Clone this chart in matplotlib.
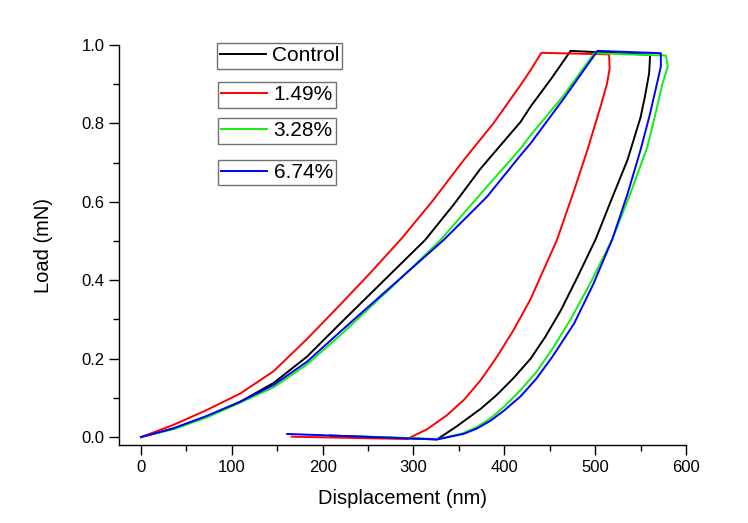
import matplotlib
matplotlib.use("Agg")
import matplotlib.pyplot as plt
from matplotlib.ticker import MultipleLocator, FormatStrFormatter
from matplotlib.lines import Line2D

plt.rcParams['font.family'] = ['Liberation Sans', 'DejaVu Sans']

# ---- data (displacement nm, load mN): loading, hold, unloading, drift ----
ctrl_x = [0, 35.6, 72.4, 109.2, 146, 182.7, 219.5, 266, 313, 345, 374, 418, 429, 452, 473,
          560.6,
          559.5, 555, 550, 535.7, 517, 500.7, 481, 462, 445, 429, 410, 392, 374, 348, 326,
          208]
ctrl_y = [0, 0.022, 0.052, 0.090, 0.138, 0.205, 0.290, 0.396, 0.503, 0.595, 0.685, 0.804, 0.843, 0.915, 0.985,
          0.975,
          0.928, 0.870, 0.815, 0.707, 0.600, 0.505, 0.410, 0.322, 0.255, 0.200, 0.150, 0.108, 0.072, 0.028, -0.006,
          0.004]

r149_x = [0, 35.6, 72.4, 109.2, 146, 182.7, 219.5, 253, 287.5, 322, 355.5, 388, 418, 429, 440.8,
          515.4,
          516, 513, 506, 491.5, 477, 458, 429, 410, 392, 374, 356, 337, 315, 293,
          166]
r149_y = [0, 0.031, 0.069, 0.111, 0.168, 0.250, 0.338, 0.420, 0.508, 0.605, 0.707, 0.800, 0.898, 0.936, 0.980,
          0.976,
          0.940, 0.900, 0.843, 0.732, 0.630, 0.503, 0.352, 0.272, 0.205, 0.145, 0.096, 0.056, 0.020, -0.005,
          0.001]

r328_x = [0, 35.6, 72.4, 109.2, 146, 182.7, 219.5, 275, 330, 381, 418, 429, 465, 499,
          578,
          580, 574, 567, 557.7, 539, 519, 496, 473, 453, 435, 418, 400, 385, 370, 355, 328,
          240]
r328_y = [0, 0.020, 0.050, 0.088, 0.127, 0.185, 0.260, 0.380, 0.503, 0.639, 0.736, 0.770, 0.870, 0.979,
          0.973,
          0.945, 0.900, 0.830, 0.741, 0.622, 0.505, 0.398, 0.300, 0.225, 0.165, 0.120, 0.078, 0.048, 0.026, 0.010, -0.005,
          0.002]

r674_x = [0, 35.6, 72.4, 109.2, 146, 182.7, 219.5, 276, 333.4, 381, 418, 429, 466, 502.6,
          572.4,
          572.4, 570, 566, 560, 550, 535.7, 519, 498, 477, 453, 435, 418, 400, 385, 370, 355, 326,
          161]
r674_y = [0, 0.022, 0.054, 0.090, 0.133, 0.192, 0.269, 0.385, 0.503, 0.613, 0.719, 0.749, 0.865, 0.985,
          0.979,
          0.945, 0.920, 0.880, 0.820, 0.732, 0.620, 0.505, 0.390, 0.290, 0.205, 0.148, 0.104, 0.068, 0.042, 0.022, 0.008, -0.006,
          0.008]

labels = ["Control", "1.49%", "3.28%", "6.74%"]
colors = ["#000000", "#ff0000", "#11ee11", "#0000ff"]

fig = plt.figure(figsize=(7.48, 5.23), dpi=100)
ax = fig.add_axes([0.159, 0.149, 0.758, 0.765])

series = [(ctrl_x, ctrl_y), (r149_x, r149_y), (r328_x, r328_y), (r674_x, r674_y)]
for (xs, ys), c in zip(series, colors):
    ax.plot(xs, ys, color=c, lw=1.4, solid_joinstyle='round')

ax.set_xlim(-24.3, 600)
ax.set_ylim(-0.0204, 1.0)
ax.spines['top'].set_visible(False)
ax.spines['right'].set_visible(False)
for s in ('left', 'bottom'):
    ax.spines[s].set_linewidth(1.0)

ax.xaxis.set_major_locator(MultipleLocator(100))
ax.xaxis.set_minor_locator(MultipleLocator(50))
ax.yaxis.set_major_locator(MultipleLocator(0.2))
ax.yaxis.set_minor_locator(MultipleLocator(0.1))
ax.yaxis.set_major_formatter(FormatStrFormatter('%.1f'))
ax.tick_params(which='major', direction='out', length=7, width=1, labelsize=12, pad=3.5)
ax.tick_params(which='minor', direction='out', length=4.5, width=1)

ax.set_xlabel("Displacement (nm)", fontsize=14.5, labelpad=10)
ax.set_ylabel("Load (mN)", fontsize=14.5, labelpad=20)

# separate legend boxes, as in the reference
box_tops = [43.3, 82.3, 118.3, 160]
box_lefts = [216.7, 218.3, 218.3, 218.3]
H = 523.0
W = 748.0
for lab, c, top, left in zip(labels, colors, box_tops, box_lefts):
    h = Line2D([], [], color=c, lw=1.4)
    leg = fig.legend([h], [lab], loc='upper left',
                     bbox_to_anchor=(left / W, 1 - top / H),
                     bbox_transform=fig.transFigure,
                     fontsize=15, frameon=True, fancybox=False,
                     edgecolor='#707070', framealpha=1,
                     borderpad=0.15, handlelength=2.2, handletextpad=0.3,
                     borderaxespad=0)
    leg.get_frame().set_linewidth(1.0)

fig.savefig("out.png", dpi=100)
